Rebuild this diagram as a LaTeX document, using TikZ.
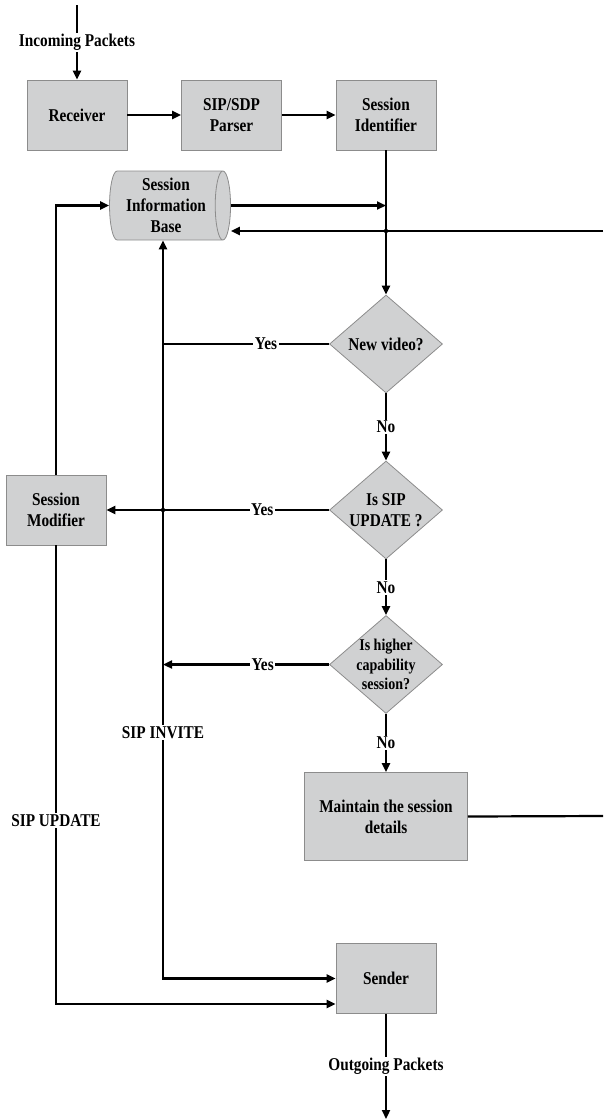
\documentclass[tikz,border=0pt]{standalone}
\usepackage{fontspec}
\setmainfont{Liberation Serif}[FakeStretch=0.85]
\usepackage{tikz}
\usetikzlibrary{shapes.geometric,arrows.meta}
\definecolor{boxgray}{RGB}{208,209,210}
\definecolor{edgegray}{RGB}{140,140,140}
\tikzstyle{process} = [rectangle, minimum width=100pt, minimum height=70pt, align=center, draw=edgegray, line width=0.8pt, fill=boxgray]
\tikzstyle{decision} = [diamond, aspect=1.15, minimum width=113pt, minimum height=98pt, inner sep=-3pt, align=center, draw=edgegray, line width=0.8pt, fill=boxgray]
\tikzstyle{store} = [cylinder, aspect=0.28, minimum width=69pt, minimum height=121pt, inner sep=0pt, align=center, draw=edgegray, line width=0.8pt, fill=boxgray]
\tikzstyle{arrow} = [line width=2.2pt,->,>={Triangle[length=9pt,width=8pt]}]
\tikzstyle{line} = [line width=2.2pt]
\tikzstyle{lbl} = [fill=white, inner sep=1.5pt]

\begin{document}
\begin{tikzpicture}[x=1pt, y=1pt, node distance=154.5pt, font=\fontsize{18}{21}\selectfont\bfseries]
\useasboundingbox (0,0) rectangle (603,-1119);
\node (receiver) [process] at (77,-115) {Receiver};
\node (parser) [process, right of=receiver] {SIP/SDP\\Parser};
\node (ident) [process, right of=parser] {Session\\Identifier};
\node (sib) [store] at (166,-205.5) {Session\\Information\\Base};
\node (newvid) [decision, below of=ident, yshift=-74.5pt] {New video?};
\node (isupdate) [decision, below of=newvid, yshift=-11.5pt] {Is SIP\\UPDATE ?};
\node (higher) [decision, below of=isupdate, font=\fontsize{16.5}{19.5}\selectfont\bfseries] {Is higher\\capability\\session?};
\node (maintain) [process, below of=higher, yshift=2.5pt, minimum width=163pt, minimum height=88pt] {Maintain the session\\details};
\node (sender) [process, below of=maintain, yshift=-7.5pt] {Sender};
\node (modifier) [process, left of=isupdate, xshift=-175.5pt] {Session\\Modifier};

\coordinate (in) at (77,-5);
\coordinate (rin) at (603,-231);
\coordinate (rout) at (603,-816);
\coordinate (jn) at (163,-344);
\coordinate (sup) at (56,-1004);
\coordinate (out) at (386,-1119);

\draw [arrow] (in) -- node[lbl] {Incoming Packets} (receiver);
\draw [arrow] (receiver) -- (parser);
\draw [arrow] (parser) -- (ident);
\draw [arrow] (ident) -- (newvid);
\draw [arrow] (sib.east) -- (ident.south |- sib.east);
\draw [arrow] (rin) -- (sib.east |- rin);
\fill (ident.south |- rin) circle (2.2pt);

\draw [arrow] (newvid.west) -- node[lbl, pos=0.38] {Yes} (jn) -- (jn |- sib.south);
\draw [arrow] (isupdate.west) -- node[lbl, pos=0.3] {Yes} (modifier.east);
\fill (jn |- isupdate) circle (2.2pt);
\draw [arrow] (higher.west) -- node[lbl, pos=0.4] {Yes} (jn |- higher);
\draw [arrow] (jn) -- node[lbl, pos=0.612] {SIP INVITE} (jn |- sender) -- (sender.west);

\draw [arrow] (modifier.north) |- (sib.west);
\draw [arrow] (modifier.south) -- node[lbl, pos=0.6] {SIP UPDATE} (sup) -- (sup -| sender.west);

\draw [arrow] (newvid) -- node[lbl] {No} (isupdate);
\draw [arrow] (isupdate) -- node[lbl] {No} (higher);
\draw [arrow] (higher) -- node[lbl] {No} (maintain);
\draw [line] (maintain.east) -- (rout);
\draw [arrow] (sender) -- node[lbl] {Outgoing Packets} (out);
\end{tikzpicture}
\end{document}
